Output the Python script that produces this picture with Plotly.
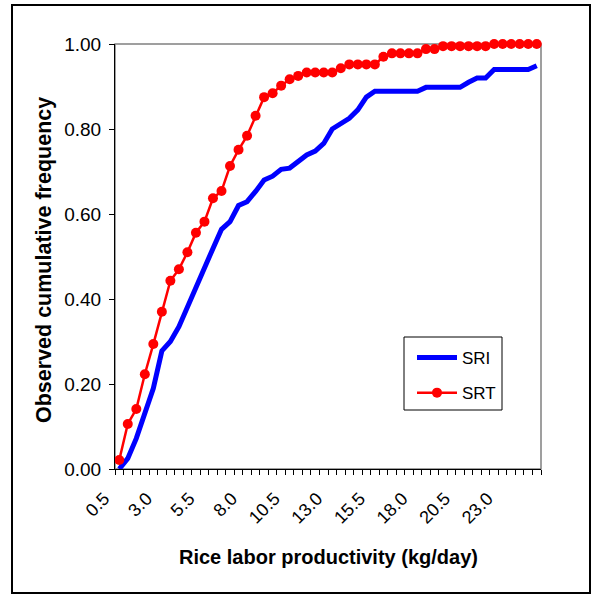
import plotly.graph_objects as go

categories = [0.5, 1.0, 1.5, 2.0, 2.5, 3.0, 3.5, 4.0, 4.5, 5.0,
              5.5, 6.0, 6.5, 7.0, 7.5, 8.0, 8.5, 9.0, 9.5, 10.0,
              10.5, 11.0, 11.5, 12.0, 12.5, 13.0, 13.5, 14.0, 14.5, 15.0,
              15.5, 16.0, 16.5, 17.0, 17.5, 18.0, 18.5, 19.0, 19.5, 20.0,
              20.5, 21.0, 21.5, 22.0, 22.5, 23.0, 23.5, 24.0, 24.5, 25.0]

sri = [0.000, 0.025, 0.072, 0.131, 0.190, 0.278, 0.300, 0.335, 0.382, 0.429,
       0.478, 0.519, 0.564, 0.582, 0.620, 0.629, 0.653, 0.680, 0.689, 0.705,
       0.708, 0.723, 0.739, 0.748, 0.766, 0.800, 0.814, 0.825, 0.845, 0.875,
       0.889, 0.889, 0.889, 0.889, 0.889, 0.889, 0.898, 0.898, 0.898, 0.898,
       0.898, 0.910, 0.920, 0.920, 0.940, 0.940, 0.940, 0.940, 0.940, 0.949]

srt = [0.021, 0.106, 0.141, 0.223, 0.294, 0.370, 0.443, 0.470, 0.510, 0.556,
       0.582, 0.637, 0.654, 0.713, 0.751, 0.784, 0.831, 0.875, 0.884, 0.902,
       0.917, 0.925, 0.933, 0.933, 0.933, 0.933, 0.943, 0.952, 0.952, 0.952,
       0.952, 0.970, 0.978, 0.978, 0.978, 0.978, 0.988, 0.988, 0.995, 0.995,
       0.995, 0.995, 0.995, 0.995, 1.000, 1.000, 1.000, 1.000, 1.000, 1.000]

x_tick_vals = [0.5, 3.0, 5.5, 8.0, 10.5, 13.0, 15.5, 18.0, 20.5, 23.0]
x_tick_text = ["0.5", "3.0", "5.5", "8.0", "10.5", "13.0", "15.5", "18.0", "20.5", "23.0"]
y_tick_vals = [0.0, 0.2, 0.4, 0.6, 0.8, 1.0]

FONT = "Arial, Liberation Sans, sans-serif"

fig = go.Figure()
fig.add_trace(go.Scatter(
    x=categories, y=sri, name="SRI", mode="lines", legendgroup="a",
    line=dict(color="#0000FF", width=5), cliponaxis=False))
fig.add_trace(go.Scatter(
    x=categories, y=srt, name="SRT", mode="lines+markers", legendgroup="b",
    line=dict(color="#FF0000", width=2.5),
    marker=dict(color="#FF0000", size=10, symbol="circle"), cliponaxis=False))

W, H = 592, 595
PL, PR, PT, PB = 115, 541, 44, 469          # plot area in page pixels
L, T, R, B = PL, PT, W - PR, H - PB
PW, PH = PR - PL, PB - PT


def px(xp):
    return (xp - PL) / PW


def py(yp):
    return (PB - yp) / PH


fig.update_layout(
    width=W, height=H,
    margin=dict(l=L, r=R, t=T, b=B, pad=0),
    paper_bgcolor="white", plot_bgcolor="white",
    font=dict(family=FONT, size=16, color="black"),
    showlegend=True,
    legend=dict(x=px(412), y=py(340), xanchor="left", yanchor="top",
                borderwidth=0, bgcolor="rgba(0,0,0,0)",
                font=dict(family=FONT, size=17, color="black"),
                tracegroupgap=10, itemwidth=40),
    xaxis=dict(
        range=[0.25, 25.25], showgrid=False, zeroline=False,
        showline=True, linecolor="black", linewidth=1,
        tickmode="array", tickvals=x_tick_vals, ticktext=x_tick_text,
        ticks="", tickangle=-45, ticklabelshift=-15, ticklabelstandoff=11,
        tickfont=dict(family=FONT, size=18, color="black"),
        minor=dict(ticks="outside", tick0=0.25, dtick=0.5, ticklen=5,
                   tickcolor="black", tickwidth=1, showgrid=False),
    ),
    yaxis=dict(
        range=[0, 1], showgrid=False, zeroline=False,
        showline=True, linecolor="black", linewidth=1,
        tickmode="array", tickvals=y_tick_vals, tickformat=".2f",
        ticks="outside", ticklen=5, tickcolor="black", ticklabelstandoff=4,
        tickfont=dict(family=FONT, size=19, color="black"),
    ),
    shapes=[
        dict(type="rect", xref="paper", yref="paper", x0=0, x1=1, y0=0, y1=1,
             line=dict(color="#808080", width=1.5), layer="below"),
        dict(type="rect", xref="paper", yref="paper",
             x0=px(404), x1=px(502), y0=py(410), y1=py(337),
             line=dict(color="black", width=1), fillcolor="white", layer="above"),
        dict(type="rect", xref="paper", yref="paper",
             x0=px(12), x1=px(590), y0=py(593), y1=py(5),
             line=dict(color="black", width=2)),
    ],
    annotations=[
        dict(text="<b>Observed cumulative frequency</b>", xref="paper", yref="paper",
             x=px(44), y=py(260), textangle=-90, showarrow=False,
             font=dict(family=FONT, size=21.5, color="black"),
             xanchor="center", yanchor="middle"),
        dict(text="<b>Rice labor productivity (kg/day)</b>", xref="paper", yref="paper",
             x=0.5, y=py(557), showarrow=False,
             font=dict(family=FONT, size=20, color="black"),
             xanchor="center", yanchor="middle"),
    ],
)

fig.write_html("out.html", config={"displayModeBar": False},
               post_script="document.body.style.margin='0';document.body.style.overflow='hidden';")
